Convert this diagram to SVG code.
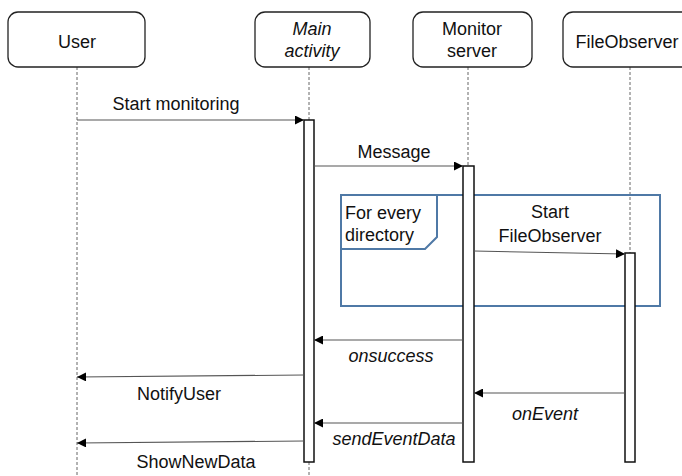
<svg xmlns="http://www.w3.org/2000/svg" width="682" height="476" viewBox="0 0 682 476">
<style>
text{font-family:"Liberation Sans",Arial,sans-serif;font-size:18px;fill:#111}
.c{text-anchor:middle}
.i{font-style:italic}
.hd{fill:#fff;stroke:#222;stroke-width:1.3}
.life{stroke:#666;stroke-width:1;stroke-dasharray:3,2;fill:none}
.act{fill:#fff;stroke:#111;stroke-width:1.5}
.msg{stroke:#555;stroke-width:1.1;fill:none;marker-end:url(#ah)}
.frame{fill:none;stroke:#4f79a6;stroke-width:2}
</style>
<defs>
<marker id="ah" viewBox="0 0 10 10" refX="10" refY="5" markerWidth="10" markerHeight="9" markerUnits="userSpaceOnUse" orient="auto">
<path d="M0,0 L10,5 L0,10 z" fill="#000"/>
</marker>
</defs>
<rect width="682" height="476" fill="#fff"/>
<g id="lifelines">
<line class="life" x1="77" y1="67" x2="77" y2="476"/>
<line class="life" x1="309" y1="67" x2="309" y2="120"/>
<line class="life" x1="309" y1="462" x2="309" y2="476"/>
<line class="life" x1="468" y1="67" x2="468" y2="166"/>
<line class="life" x1="630" y1="67" x2="630" y2="253"/>
</g>
<g id="user"><rect class="hd" x="8" y="12" width="137" height="55" rx="10"/><text class="c" x="77" y="48">User</text></g>
<g id="main-activity"><rect class="hd" x="255" y="12" width="115" height="55" rx="10"/><text class="c i" x="312" y="35">Main</text><text class="c i" x="312" y="57">activity</text></g>
<g id="monitor-server"><rect class="hd" x="413" y="12" width="119" height="55" rx="10"/><text class="c" x="472" y="35">Monitor</text><text class="c" x="472" y="57">server</text></g>
<g id="fileobserver"><rect class="hd" x="563" y="12" width="140" height="55" rx="10"/><text class="c" x="627" y="48">FileObserver</text></g>
<g id="loop-frame">
<rect class="frame" x="341" y="195" width="319" height="111"/>
<path class="frame" stroke-width="1.5" d="M341,249 L425,249 L437,237 L437,195"/>
<text x="345" y="219">For every</text>
<text x="345" y="241">directory</text>
</g>
<g id="activations">
<rect class="act" x="304" y="120" width="10" height="342"/>
<rect class="act" x="463" y="166" width="11" height="296"/>
<rect class="act" x="625" y="253" width="10" height="209"/>
</g>
<g id="connectors">
<line class="msg" x1="77" y1="120" x2="304" y2="120"/>
<line class="msg" x1="314" y1="166" x2="463" y2="166"/>
<line class="msg" x1="474" y1="251" x2="625" y2="254"/>
<line class="msg" x1="463" y1="340" x2="314" y2="340"/>
<line class="msg" x1="304" y1="375" x2="77" y2="377"/>
<line class="msg" x1="625" y1="393" x2="474" y2="393"/>
<line class="msg" x1="463" y1="423" x2="314" y2="423"/>
<line class="msg" x1="304" y1="441" x2="77" y2="443"/>
</g>
<g id="labels">
<text class="c" x="176" y="110">Start monitoring</text>
<text class="c" x="394" y="158">Message</text>
<text class="c" x="550" y="218">Start</text>
<text class="c" x="550" y="242">FileObserver</text>
<text class="c i" x="391" y="362">onsuccess</text>
<text class="c" x="179" y="400">NotifyUser</text>
<text class="c i" x="545" y="420">onEvent</text>
<text class="c i" x="394" y="445">sendEventData</text>
<text class="c" x="196" y="468">ShowNewData</text>
</g>
</svg>
